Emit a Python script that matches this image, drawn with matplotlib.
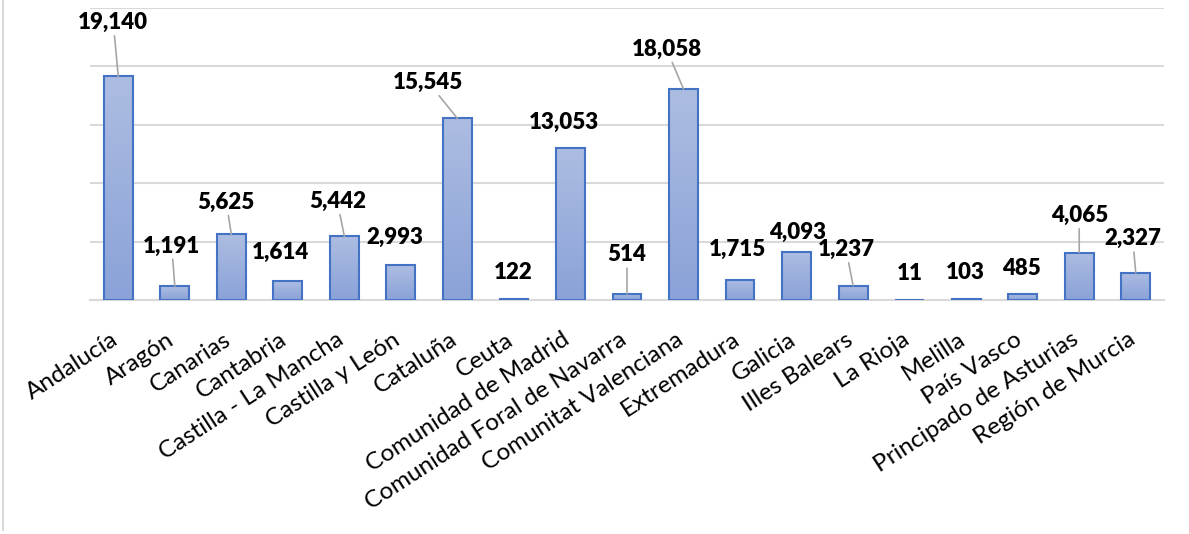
import numpy as np
import matplotlib.pyplot as plt
from matplotlib.lines import Line2D
from matplotlib.transforms import ScaledTranslation

# Data
regions = ['Andalucía', 'Aragón', 'Canarias', 'Cantabria', 'Castilla - La Mancha',
           'Castilla y León', 'Cataluña', 'Ceuta', 'Comunidad de Madrid',
           'Comunidad Foral de Navarra', 'Comunitat Valenciana', 'Extremadura',
           'Galicia', 'Illes Balears', 'La Rioja', 'Melilla', 'País Vasco',
           'Principado de Asturias', 'Región de Murcia']
values = [19140, 1191, 5625, 1614, 5442, 2993, 15545, 122, 13053, 514,
          18058, 1715, 4093, 1237, 11, 103, 485, 4065, 2327]

# label offsets from bar top (pixels), and which labels get a leader line
label_dx = [-5, -3, -5, -7, -7, -6, -29, -1, -7, 0, -17, -3, 1, -7, 0, -1, -1, 0, -3]
label_dy = [54, 40, 32, 29, 35, 28, 36, 26, 25, 39, 40, 31, 20, 36, 26, 26, 26, 37, 34]
leader = [1, 1, 1, 0, 1, 0, 1, 0, 0, 1, 1, 0, 0, 1, 0, 0, 0, 1, 1]

plt.rcParams['font.family'] = ['Lato', 'DejaVu Sans']

fig = plt.figure(figsize=(11.89, 5.34), dpi=100)
ax = fig.add_axes([90 / 1189, 1 - 300 / 534, (1164 - 90) / 1189, (300 - 8) / 534])

x = np.arange(len(values))
bars = ax.bar(x, values, width=0.51, color='none', edgecolor='#4472c4',
              linewidth=1.5, zorder=3)

# vertical gradient inside each bar
grad = np.linspace(0, 1, 256).reshape(-1, 1)
cmap = plt.matplotlib.colors.LinearSegmentedColormap.from_list(
    'g', ['#8aa2d8', '#adbde2'])
for b in bars:
    x0, w, h = b.get_x(), b.get_width(), b.get_height()
    im = ax.imshow(grad, cmap=cmap, aspect='auto', origin='lower',
                   extent=(x0, x0 + w, 0, h), zorder=2)
    im.set_clip_path(b)

ax.set_xlim(-0.5, len(values) - 0.5)
ax.set_ylim(0, 25000)
ax.set_yticks([0, 5000, 10000, 15000, 20000, 25000])
ax.yaxis.grid(True, color='#d9d9d9', linewidth=1.5, zorder=0)
ax.set_axisbelow(True)
ax.tick_params(axis='y', left=False, labelleft=False)
ax.tick_params(axis='x', length=0, pad=31)
for s in ['top', 'right', 'left']:
    ax.spines[s].set_visible(False)
ax.spines['bottom'].set_color('#d9d9d9')
ax.spines['bottom'].set_linewidth(1.5)

ax.set_xticks(x)
ax.set_xticklabels(regions, rotation=33, ha='right', va='baseline',
                   rotation_mode='anchor', fontsize=17.5)
shift = ScaledTranslation(1 / 100, 0, fig.dpi_scale_trans)
for lab in ax.get_xticklabels():
    lab.set_transform(lab.get_transform() + shift)

for i, v in enumerate(values):
    arrow = dict(arrowstyle='-', color='#a6a6a6', lw=1.2, shrinkA=0, shrinkB=0) if leader[i] else None
    ax.annotate(f'{v:,}', xy=(i, v), xytext=(label_dx[i] * 0.72, label_dy[i] * 0.72),
                textcoords='offset points', ha='center', va='center',
                fontsize=16, fontweight='heavy', arrowprops=arrow, zorder=4)

# chart border on the left
fig.add_artist(Line2D([3 / 1189, 3 / 1189], [1 - 530 / 534, 1], color='#d9d9d9',
                      linewidth=1.5, transform=fig.transFigure))

fig.savefig('out.png', dpi=100)
